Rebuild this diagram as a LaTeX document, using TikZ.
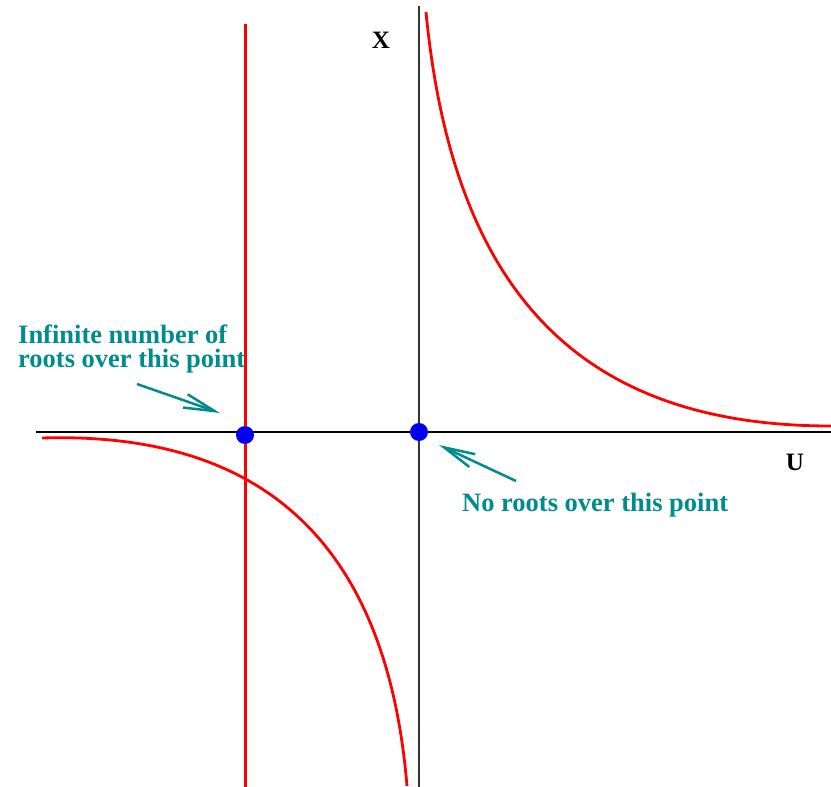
\documentclass[tikz,border=0pt]{standalone}
\usepackage{fontspec}
\setmainfont{Liberation Serif}
\usetikzlibrary{arrows.meta}
\definecolor{tealc}{RGB}{0,140,140}
\definecolor{redc}{RGB}{255,0,0}
\definecolor{bluec}{RGB}{0,0,240}
\tikzset{
  axis/.style={draw=black, line width=1.1pt},
  curve/.style={draw=redc, line width=2.8pt},
  rootdot/.style={circle, fill=bluec, inner sep=0pt, minimum size=18pt},
  lbl/.style={text=tealc, font=\fontsize{26.5}{24}\selectfont\bfseries, inner sep=0pt},
  axlbl/.style={text=black, font=\fontsize{25}{25}\selectfont\bfseries, inner sep=0pt},
  pointer/.style={draw=tealc, line width=2.5pt, -{Straight Barb[length=31pt,width=14pt,line width=2.5pt]}}
}
\begin{document}
\begin{tikzpicture}[x=1pt,y=-1pt]
\useasboundingbox[fill=white] (0,0) rectangle (831,787);
% axes
\coordinate (hL) at (36,432);
\coordinate (hR) at (831,432);
\coordinate (vT) at (419,6);
\coordinate (vB) at (419,787);
\draw[axis] (hL) -- (hR);
\draw[axis, draw=black!80] (vT) -- (vB);
% red vertical line
\coordinate (rT) at (245,24);
\coordinate (rB) at (245,787);
\draw[curve, line width=3pt] (rT) -- (rB);
% hyperbola branches
\coordinate (u0) at (426,12);
\coordinate (u3) at (831,426);
\draw[curve] (u0) .. controls (453,292) and (580,426) .. (u3);
\coordinate (l0) at (42,438);
\coordinate (l3) at (407,786);
\draw[curve] (l0) .. controls (242,432) and (385,522) .. (l3);
% dots
\node[rootdot] (p1) at (245,435) {};
\node[rootdot] (p2) at (419,432) {};
% labels
\node[lbl, anchor=base west, align=left] (inf) at (18,367) {Infinite number of\\roots over this point};
\node[lbl, anchor=base west] (none) at (462,511) {No roots over this point};
\node[axlbl, anchor=base] (X) at (381,48) {X};
\node[axlbl, anchor=base] (U) at (795,470) {U};
% pointers
\coordinate (a1s) at (137,384);
\coordinate (a1e) at (220,413);
\coordinate (a2s) at (516,481);
\coordinate (a2e) at (439,445);
\draw[pointer] (a1s) -- (a1e);
\draw[pointer] (a2s) -- (a2e);
\end{tikzpicture}
\end{document}
